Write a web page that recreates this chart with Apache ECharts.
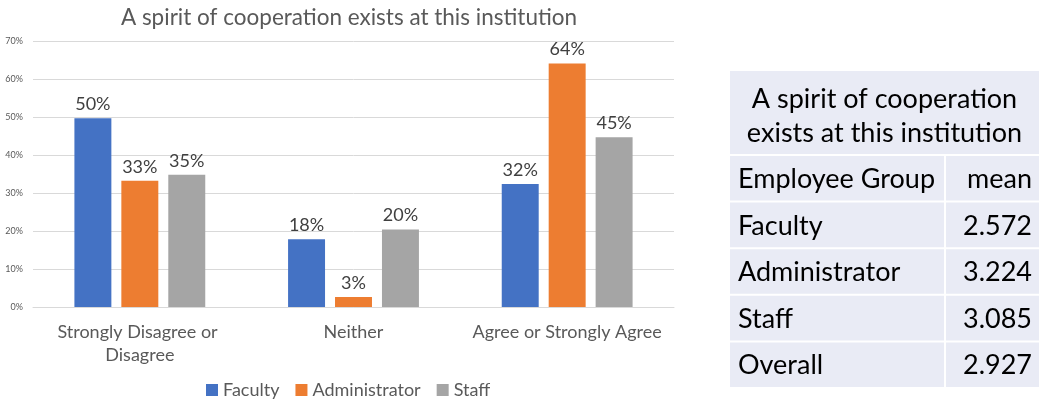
<!DOCTYPE html>
<html lang="en">
<head>
    <meta charset="UTF-8">
    <title>A spirit of cooperation exists at this institution</title>
    <script src="https://cdn.jsdelivr.net/npm/echarts@6/dist/echarts.min.js"></script>
    <style>
        html, body { margin: 0; padding: 0; background: #fff; }
        #main { width: 1039px; height: 400px; }
    </style>
</head>
<body>
<div id="main"></div>
<script>
    // chart data
    var categories = ['Strongly Disagree or Disagree', 'Neither', 'Agree or Strongly Agree'];
    var seriesNames = ['Faculty', 'Administrator', 'Staff'];
    var faculty = [49.7, 17.8, 32.4];
    var administrator = [33.2, 2.6, 64.1];
    var staff = [34.8, 20.4, 44.7];
    var colors = ['#4472c4', '#ed7d31', '#a5a5a5'];

    // table data
    var tableTitle = 'A spirit of cooperation\nexists at this institution';
    var tableHeader = ['Employee Group', 'mean'];
    var groups = ['Faculty', 'Administrator', 'Staff', 'Overall'];
    var means = ['2.572', '3.224', '3.085', '2.927'];

    var FONT = 'Lato';
    var chart = echarts.init(document.getElementById('main'));

    // table drawn with graphic elements
    var tbl = [];
    var tx = 730, tRight = 1039, colSplit = 945;
    var cellBg = '#e9ebf5';
    tbl.push({ type: 'rect', shape: { x: tx, y: 71, width: tRight - tx, height: 83 }, style: { fill: cellBg } });
    tbl.push({ type: 'text', x: (tx + tRight) / 2, y: 116, style: {
        text: tableTitle, fill: '#000', font: '27px ' + FONT, align: 'center', verticalAlign: 'middle', lineHeight: 34 } });
    var rows = [tableHeader].concat(groups.map(function (g, i) { return [g, means[i]]; }));
    var rowTop = 156, rowH = 46.6;
    rows.forEach(function (r, i) {
        var y = rowTop + i * rowH;
        tbl.push({ type: 'rect', shape: { x: tx, y: y, width: colSplit - tx - 1, height: rowH - 2 }, style: { fill: cellBg } });
        tbl.push({ type: 'rect', shape: { x: colSplit + 1, y: y, width: tRight - colSplit - 1, height: rowH - 2 }, style: { fill: cellBg } });
        tbl.push({ type: 'text', x: tx + 8, y: y + rowH / 2, style: {
            text: r[0], fill: '#000', font: '27px ' + FONT, verticalAlign: 'middle' } });
        tbl.push({ type: 'text', x: 1032, y: y + rowH / 2, style: {
            text: r[1], fill: '#000', font: '27px ' + FONT, align: 'right', verticalAlign: 'middle' } });
    });

    function barSeries(name, data, color) {
        return {
            name: name,
            type: 'bar',
            data: data,
            barWidth: '17.3%',
            barGap: '27%',
            itemStyle: { color: color },
            label: {
                show: true,
                position: 'top',
                distance: 5,
                color: '#404040',
                fontFamily: FONT,
                fontSize: 18,
                formatter: function (p) { return Math.round(p.value) + '%'; }
            }
        };
    }

    var option = {
        animation: false,
        color: colors,
        textStyle: { fontFamily: FONT },
        title: {
            text: 'A spirit of cooperation exists at this institution',
            left: 344,
            top: 1,
            textAlign: 'center',
            textStyle: { color: '#595959', fontSize: 22.5, fontWeight: 'normal', fontFamily: FONT }
        },
        legend: {
            data: seriesNames,
            left: 201,
            top: 376,
            icon: 'rect',
            itemWidth: 12,
            itemHeight: 12,
            itemGap: 16,
            textStyle: { color: '#595959', fontSize: 18, fontFamily: FONT }
        },
        grid: { left: 33, right: 365, top: 41, bottom: 93 },
        xAxis: {
            type: 'category',
            data: categories,
            axisTick: { show: false },
            axisLine: { lineStyle: { color: '#d9d9d9' } },
            axisLabel: {
                color: '#595959',
                fontSize: 18,
                fontFamily: FONT,
                margin: 14,
                lineHeight: 23,
                width: 205,
                overflow: 'break',
                interval: 0
            }
        },
        yAxis: {
            type: 'value',
            min: 0,
            max: 70,
            interval: 10,
            axisLine: { show: false },
            axisTick: { show: false },
            splitLine: { lineStyle: { color: '#d9d9d9' } },
            axisLabel: {
                color: '#595959',
                fontSize: 9,
                fontFamily: FONT,
                margin: 10,
                formatter: '{value}%'
            }
        },
        series: [
            barSeries(seriesNames[0], faculty, colors[0]),
            barSeries(seriesNames[1], administrator, colors[1]),
            barSeries(seriesNames[2], staff, colors[2])
        ],
        graphic: tbl
    };
    chart.setOption(option);
</script>
</body>
</html>
